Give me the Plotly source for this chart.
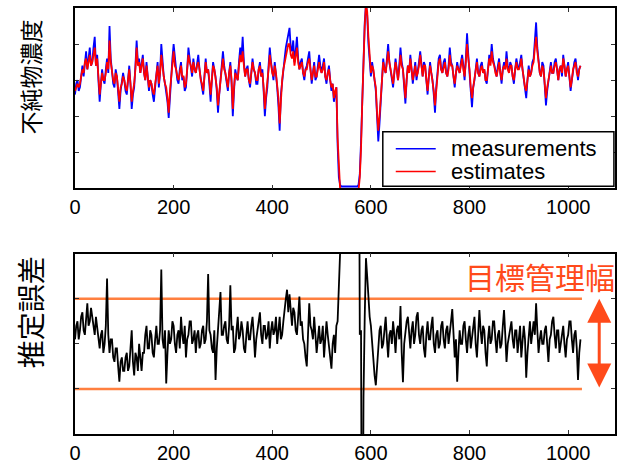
import plotly.graph_objects as go

# sample index (every 2.5 samples)
x = [i * 2.5 for i in range(411)]

measurements = [
    2.6, 2.9, 3.0, 2.7, 2.8, 3.2, 3.4, 3.1, 3.6, 3.8, 3.3, 3.6, 3.9, 3.4, 3.5, 3.9, 4.2, 3.4, 3.7, 3.0,
    2.4, 2.9, 3.3, 3.0, 2.9, 3.3, 3.6, 3.2, 4.5, 3.6, 3.2, 2.9, 2.8, 3.3, 3.1, 2.6, 2.2, 2.7, 2.9, 3.2,
    3.0, 2.7, 2.6, 3.1, 3.4, 2.9, 2.2, 2.6, 2.8, 3.4, 4.1, 3.5, 3.6, 3.2, 3.4, 3.7, 3.2, 3.0, 3.5, 3.1,
    2.7, 3.0, 2.9, 2.6, 2.4, 2.8, 3.2, 3.5, 2.8, 3.2, 4.0, 3.4, 3.1, 2.9, 2.7, 2.4, 1.95, 2.6, 3.2, 3.6,
    4.0, 3.5, 3.3, 3.0, 2.9, 3.3, 3.5, 3.0, 3.1, 2.7, 2.8, 3.3, 3.9, 3.6, 3.4, 3.1, 3.6, 3.3, 3.2, 3.5,
    3.7, 3.3, 3.0, 2.8, 2.6, 3.1, 3.6, 3.2, 3.3, 2.9, 2.4, 3.0, 3.5, 3.3, 3.1, 2.7, 2.1, 2.6, 3.0, 3.4,
    3.8, 3.4, 3.2, 3.0, 2.7, 3.2, 3.5, 2.9, 2.0, 2.7, 3.3, 3.1, 3.0, 3.5, 3.9, 3.6, 4.2, 3.5, 3.1, 3.3,
    3.4, 3.0, 2.8, 3.2, 3.6, 3.3, 3.2, 2.9, 2.9, 3.3, 3.5, 3.1, 3.3, 2.7, 2.0, 2.5, 2.8, 3.4, 3.9, 3.5,
    3.2, 3.0, 3.5, 3.2, 2.8, 2.3, 1.6, 2.6, 3.0, 3.4, 3.6, 3.9, 4.1, 4.3, 4.45, 3.9, 3.8, 4.1, 3.5, 3.8,
    4.2, 3.6, 3.3, 3.5, 3.6, 3.2, 3.0, 3.3, 3.4, 3.6, 3.8, 3.3, 2.9, 3.2, 3.5, 3.0, 3.1, 3.4, 3.7, 3.4,
    3.2, 3.4, 3.6, 3.1, 2.9, 3.2, 3.4, 3.0, 2.7, 2.9, 2.4, 2.6, 2.8, 1.2, 0.3, 0.1, 0.05, 0.05, 0.05, 0.05,
    0.05, 0.05, 0.05, 0.05, 0.05, 0.05, 0.05, 0.05, 0.05, 0.05, 0.1, 0.4, 1.3, 2.6, 3.9, 4.6, 5.1, 4.8, 4.0, 3.4,
    3.1, 3.5, 3.3, 3.0, 2.7, 1.9, 1.3, 1.8, 2.4, 3.0, 3.6, 3.3, 3.2, 3.6, 4.0, 3.5, 3.3, 3.0, 2.8, 3.2,
    3.6, 3.3, 3.0, 3.4, 3.9, 3.5, 3.3, 2.8, 2.35, 3.0, 3.4, 3.2, 3.7, 3.3, 2.9, 3.2, 3.5, 3.0, 3.2, 3.5,
    3.8, 3.4, 3.1, 3.5, 3.4, 3.0, 2.6, 3.1, 3.5, 3.2, 3.0, 2.6, 2.1, 2.8, 3.3, 3.6, 3.7, 3.3, 3.2, 3.5,
    3.6, 3.2, 3.1, 3.4, 3.9, 3.5, 3.4, 3.1, 2.8, 3.2, 3.5, 3.3, 3.2, 3.5, 3.7, 3.4, 3.0, 3.6, 4.3, 3.7,
    3.3, 2.7, 2.25, 2.8, 3.0, 3.3, 3.6, 3.2, 3.1, 3.4, 3.5, 3.2, 3.3, 3.0, 2.9, 3.3, 3.7, 3.5, 4.0, 3.6,
    3.4, 3.2, 3.1, 3.4, 3.6, 3.2, 2.9, 3.3, 3.5, 3.3, 3.8, 3.4, 3.2, 3.5, 3.4, 3.1, 2.9, 3.3, 3.6, 3.4,
    3.3, 3.5, 3.7, 3.3, 3.0, 2.7, 2.5, 3.0, 3.4, 3.1, 3.2, 3.5, 3.6, 4.1, 4.6, 3.9, 3.5, 3.2, 3.1, 3.5,
    3.4, 2.8, 2.3, 2.7, 3.0, 3.3, 3.5, 3.2, 3.2, 3.5, 3.6, 3.3, 3.0, 3.3, 3.4, 3.1, 3.7, 3.4, 3.1, 3.3,
    3.5, 3.1, 2.7, 3.0, 3.3, 3.5, 3.6, 3.2, 3.0, 3.3, 3.4,
]

estimates = [
    2.7, 2.8, 2.9, 2.8, 2.9, 3.1, 3.3, 3.2, 3.5, 3.6, 3.3, 3.5, 3.7, 3.4, 3.5, 3.7, 3.9, 3.4, 3.6, 3.1,
    2.6, 2.9, 3.2, 3.0, 3.0, 3.2, 3.5, 3.3, 4.1, 3.5, 3.2, 3.0, 2.9, 3.2, 3.1, 2.7, 2.4, 2.8, 2.9, 3.1,
    3.0, 2.8, 2.7, 3.0, 3.3, 2.9, 2.4, 2.7, 2.9, 3.3, 3.9, 3.4, 3.5, 3.2, 3.4, 3.6, 3.2, 3.0, 3.4, 3.1,
    2.8, 3.0, 2.9, 2.7, 2.6, 2.9, 3.2, 3.4, 2.9, 3.2, 3.7, 3.3, 3.1, 2.9, 2.8, 2.5, 2.1, 2.7, 3.1, 3.5,
    3.8, 3.4, 3.3, 3.1, 3.0, 3.2, 3.4, 3.1, 3.1, 2.8, 2.9, 3.3, 3.7, 3.5, 3.4, 3.2, 3.5, 3.3, 3.2, 3.4,
    3.5, 3.3, 3.0, 2.9, 2.7, 3.1, 3.5, 3.2, 3.3, 3.0, 2.6, 3.0, 3.4, 3.3, 3.1, 2.8, 2.3, 2.7, 3.0, 3.3,
    3.6, 3.3, 3.2, 3.0, 2.8, 3.2, 3.4, 3.0, 2.2, 2.8, 3.2, 3.1, 3.0, 3.4, 3.7, 3.5, 3.8, 3.4, 3.1, 3.3,
    3.3, 3.0, 2.9, 3.2, 3.5, 3.3, 3.2, 3.0, 3.0, 3.3, 3.4, 3.1, 3.2, 2.8, 2.2, 2.6, 2.9, 3.3, 3.7, 3.4,
    3.2, 3.1, 3.4, 3.2, 2.9, 2.5, 1.8, 2.6, 3.0, 3.3, 3.5, 3.7, 3.8, 4.0, 4.0, 3.7, 3.6, 3.8, 3.4, 3.6,
    3.9, 3.5, 3.3, 3.4, 3.5, 3.2, 3.1, 3.3, 3.3, 3.5, 3.6, 3.3, 3.0, 3.2, 3.4, 3.1, 3.1, 3.3, 3.5, 3.3,
    3.2, 3.3, 3.5, 3.1, 3.0, 3.2, 3.3, 3.0, 2.8, 2.9, 2.5, 2.7, 2.8, 1.4, 0.4, 0.0, -0.05, -0.05, -0.05, -0.05,
    -0.05, -0.05, -0.05, -0.05, -0.05, -0.05, -0.05, -0.05, -0.05, -0.05, -0.05, 0.3, 1.1, 2.4, 3.6, 4.5, 5.1, 4.9, 4.2, 3.5,
    3.2, 3.4, 3.3, 3.0, 2.8, 2.1, 1.6, 2.0, 2.5, 3.0, 3.5, 3.3, 3.2, 3.5, 3.8, 3.5, 3.3, 3.0, 2.9, 3.2,
    3.5, 3.3, 3.0, 3.3, 3.7, 3.4, 3.3, 2.9, 2.5, 3.0, 3.4, 3.2, 3.6, 3.3, 3.0, 3.2, 3.4, 3.1, 3.2, 3.4,
    3.7, 3.4, 3.1, 3.4, 3.4, 3.0, 2.7, 3.1, 3.4, 3.2, 3.0, 2.7, 2.3, 2.8, 3.3, 3.5, 3.6, 3.3, 3.2, 3.4,
    3.5, 3.2, 3.1, 3.3, 3.7, 3.4, 3.4, 3.1, 2.9, 3.2, 3.4, 3.3, 3.2, 3.4, 3.6, 3.3, 3.1, 3.5, 4.0, 3.6,
    3.3, 2.8, 2.5, 2.8, 3.0, 3.3, 3.5, 3.2, 3.1, 3.3, 3.4, 3.2, 3.3, 3.0, 3.0, 3.3, 3.6, 3.4, 3.8, 3.5,
    3.4, 3.2, 3.1, 3.3, 3.5, 3.2, 3.0, 3.3, 3.4, 3.3, 3.6, 3.3, 3.2, 3.4, 3.4, 3.1, 3.0, 3.3, 3.5, 3.3,
    3.3, 3.4, 3.6, 3.3, 3.0, 2.8, 2.7, 3.0, 3.3, 3.1, 3.2, 3.4, 3.5, 3.9, 4.2, 3.8, 3.4, 3.2, 3.1, 3.4,
    3.3, 2.9, 2.5, 2.8, 3.0, 3.3, 3.4, 3.2, 3.2, 3.4, 3.5, 3.3, 3.0, 3.3, 3.4, 3.2, 3.6, 3.4, 3.1, 3.3,
    3.4, 3.1, 2.8, 3.0, 3.3, 3.4, 3.5, 3.2, 3.1, 3.3, 3.4,
]

errors = [
    0.1, 0.4, 0.5, 0.1, 0.3, 0.6, 0.7, 0.3, 0.2, 0.5, 0.9, 0.4, 0.5, 0.8, 0.6, 0.3, 0.2, 0.6, 0.4, 0.1,
    -0.1, 0.2, 0.3, -0.2, 0.0, 0.4, 1.45, 0.2, -0.2, 0.1, 0.1, -0.3, -0.4, -0.1, -0.1, -0.5, -0.84, -0.4, -0.3, -0.6,
    -0.6, -0.3, -0.2, -0.6, -0.5, -0.1, 0.3, -0.4, -0.7, -0.2, -0.3, -0.6, 0.0, -0.3, -0.6, -0.2, -0.2, 0.2, 0.4, -0.1,
    -0.1, 0.3, 0.2, -0.2, -0.3, 0.1, 0.4, 0.0, 0.0, 0.3, 1.65, 0.1, -0.1, 0.3, -0.88, -0.2, 0.3, 0.0, 0.1, 0.5,
    0.4, 0.0, -0.2, 0.2, 0.3, -0.1, 0.6, 0.2, 0.0, 0.4, -0.3, 0.1, 0.2, 0.5, 0.5, 0.0, 0.1, 0.3, -0.2, 0.2,
    0.3, -0.1, 0.0, 0.3, 0.4, 0.0, 0.1, 0.5, 1.55, 0.3, 0.2, -0.1, -0.2, 0.3, -0.8, -0.1, 0.3, 0.6, 1.15, 0.2,
    0.2, 0.4, 0.5, 0.1, 0.0, 0.4, 1.3, 0.3, 0.4, -0.2, -0.1, 0.3, 0.6, 0.1, 0.2, 0.5, 0.3, -0.1, -0.2, 0.2,
    0.5, 0.1, 0.1, 0.4, 0.6, 0.2, -0.3, 0.1, 0.3, 0.6, 0.7, 0.2, 0.0, 0.4, 0.4, 0.1, 0.2, 0.5, -0.1, 0.3,
    0.5, 0.2, 0.3, 0.6, 0.0, 0.3, 0.6, 0.1, 0.2, 0.5, 0.8, 1.0, 1.2, 0.7, 1.1, 0.6, 0.4, 0.8, 0.7, 0.3,
    0.2, 0.6, 1.05, 0.4, 0.5, 0.1, 0.0, -0.3, -0.5, 0.2, 0.9, 0.4, 0.3, 0.1, 0.6, 0.2, -0.2, 0.1, 0.4, 0.0,
    0.1, 0.4, -0.3, 0.1, 0.5, 0.2, -0.1, -0.4, -0.55, 0.0, 0.2, -0.2, 0.4, 0.5, 8.0, 8.0, 8.0, 8.0, 8.0, 8.0,
    8.0, 8.0, 8.0, 8.0, 8.0, 8.0, 8.0, 8.0, 8.0, 8.0, 8.0, 0.2, 0.3, -8.0, -1.2, 0.6, 1.9, 1.5, 1.0, 0.6,
    0.4, 0.0, -0.4, -0.7, -0.92, -0.5, -0.1, 0.3, 0.4, -0.1, 0.0, 0.3, 0.6, 0.1, -0.3, 0.2, 0.3, 0.0, 0.5, 0.2,
    -0.2, 0.3, 0.4, 0.1, 0.84, -0.2, -0.85, 0.0, 0.3, 0.5, 0.6, 0.1, -0.1, 0.3, 0.5, 0.0, 0.2, 0.6, 0.7, 0.2,
    0.0, 0.3, 0.4, -0.1, -0.3, 0.2, 0.5, 0.1, 0.1, 0.4, 0.6, 0.0, -0.2, 0.2, 0.3, -0.1, 0.0, 0.4, 0.5, 0.1,
    -0.1, 0.3, 0.4, 0.0, 0.2, 0.5, 0.77, 0.2, -0.3, 0.1, -0.84, -0.2, 0.3, 0.0, 0.0, 0.4, 0.5, 0.1, -0.2, 0.2,
    0.4, -0.1, 0.1, 0.4, 0.6, 0.0, -0.3, 0.2, 0.75, 0.3, 0.0, 0.4, 0.3, -0.2, -0.5, 0.1, 0.4, 0.0, 0.1, 0.5,
    0.5, 0.1, -0.2, 0.2, 0.3, -0.1, 0.0, 0.4, 0.75, 0.2, -0.4, 0.0, 0.2, 0.4, 0.5, 0.1, -0.1, 0.3, 0.3, -0.2,
    0.1, 0.4, -0.3, 0.0, 0.4, 0.1, -0.75, -0.2, 0.2, 0.5, 0.0, 0.3, 0.5, 0.2, 0.9, 0.3, -0.2, 0.1, 0.3, 0.0,
    0.0, 0.3, 0.4, 0.0, -0.4, 0.1, 0.2, 0.5, 0.6, 0.2, -0.1, 0.3, 0.3, -0.2, 0.0, 0.3, 0.4, 0.0, -0.3, 0.1,
    0.2, 0.5, 0.5, 0.1, -0.2, 0.2, 0.3, -0.1, -0.8, -0.2, 0.1,
]

assert len(measurements) == len(x) == len(estimates) == len(errors)

band_x = [0, 1028]
band_upper = [1.0, 1.0]
band_lower = [-1.0, -1.0]
arrow_x = 1063

x_ticks = [0, 200, 400, 600, 800, 1000]
x_tick_labels = ["0", "200", "400", "600", "800", "1000"]

TITLE_TOP = "不純物濃度"
TITLE_BOTTOM = "推定誤差"
BAND_LABEL = "目標管理幅"
SERIES_NAMES = ["measurements", "estimates"]

BLUE = "#0000ff"
RED = "#ff0000"
ORANGE = "#ff7f3f"
ARROW_RED = "#ff4a1a"

fig = go.Figure()
fig.add_trace(go.Scatter(x=x, y=measurements, mode="lines", name=SERIES_NAMES[0],
                         line=dict(color=BLUE, width=1.8), xaxis="x", yaxis="y"))
fig.add_trace(go.Scatter(x=x, y=estimates, mode="lines", name=SERIES_NAMES[1],
                         line=dict(color=RED, width=1.8), xaxis="x", yaxis="y"))
fig.add_trace(go.Scatter(x=band_x, y=band_upper, mode="lines", showlegend=False,
                         line=dict(color=ORANGE, width=2.5), xaxis="x2", yaxis="y2"))
fig.add_trace(go.Scatter(x=band_x, y=band_lower, mode="lines", showlegend=False,
                         line=dict(color=ORANGE, width=2.5), xaxis="x2", yaxis="y2"))
fig.add_trace(go.Scatter(x=x, y=errors, mode="lines", showlegend=False,
                         line=dict(color="#000000", width=1.8), xaxis="x2", yaxis="y2"))

axis_common = dict(showline=True, mirror="ticks", linecolor="black", linewidth=1.5,
                   ticks="inside", ticklen=4, tickcolor="#333333", showgrid=False,
                   zeroline=False)
tick_font = dict(family="Liberation Sans, Arial, sans-serif", size=20, color="black")

fig.update_layout(
    width=619, height=466,
    margin=dict(l=75, r=2, t=8, b=28),
    paper_bgcolor="white", plot_bgcolor="white",
    xaxis=dict(domain=[0, 1], range=[0, 1095], anchor="y", tickvals=x_ticks,
               ticktext=x_tick_labels, tickfont=tick_font, **axis_common),
    yaxis=dict(domain=[0.5767, 1.0], range=[0, 5], anchor="x",
               tickvals=[0, 1, 2, 3, 4, 5], showticklabels=False, **axis_common),
    xaxis2=dict(domain=[0, 1], range=[0, 1095], anchor="y2", tickvals=x_ticks,
                ticktext=x_tick_labels, tickfont=tick_font, **axis_common),
    yaxis2=dict(domain=[0.0, 0.4233], range=[-2, 2], anchor="x2",
                tickvals=[-1, 0, 1], showticklabels=False, **axis_common),
    showlegend=False,
)

# legend box (drawn as shapes + text so its compact spacing matches)
leg_x0, leg_x1 = 0.570, 0.998
leg_y0, leg_y1 = 0.5814, 0.7093
fig.add_shape(type="rect", xref="paper", yref="paper", x0=leg_x0, x1=leg_x1,
              y0=leg_y0, y1=leg_y1, fillcolor="white",
              line=dict(color="black", width=1.5), layer="above")
legend_rows_y = [0.6698, 0.6163]
for name, color, ly in zip(SERIES_NAMES, [BLUE, RED], legend_rows_y):
    fig.add_shape(type="line", xref="paper", yref="paper", x0=0.594, x1=0.668,
                  y0=ly, y1=ly, line=dict(color=color, width=1.5), layer="above")
    fig.add_annotation(text=name, xref="paper", yref="paper", x=0.692, y=ly,
                       xanchor="left", yanchor="middle", showarrow=False,
                       font=dict(family="Liberation Sans, Arial, sans-serif", size=22,
                                 color="black"))

fig.add_annotation(text=TITLE_TOP, textangle=-90, xref="paper", yref="paper",
                   x=-0.083, y=0.837, xanchor="center", yanchor="middle", showarrow=False,
                   font=dict(family="Noto Sans CJK JP", size=23, color="black"))
fig.add_annotation(text=TITLE_BOTTOM, textangle=-90, xref="paper", yref="paper",
                   x=-0.083, y=0.286, xanchor="center", yanchor="middle", showarrow=False,
                   font=dict(family="Noto Sans CJK JP", size=28, color="black"))
fig.add_annotation(text=BAND_LABEL, xref="x2", yref="y2", x=943, y=1.5,
                   xanchor="center", yanchor="middle", showarrow=False,
                   font=dict(family="Noto Sans CJK JP", size=30, color=ARROW_RED))
# double-headed arrow
fig.add_annotation(x=arrow_x, y=1.0, ax=arrow_x, ay=-1.0, xref="x2", yref="y2",
                   axref="x2", ayref="y2", text="", showarrow=True,
                   arrowhead=2, startarrowhead=2, arrowside="end+start",
                   arrowsize=1.6, startarrowsize=1.6, arrowwidth=3, arrowcolor=ARROW_RED)

fig.write_html("out.html", config={"displayModeBar": False},
               post_script="document.body.style.margin='0px';")
